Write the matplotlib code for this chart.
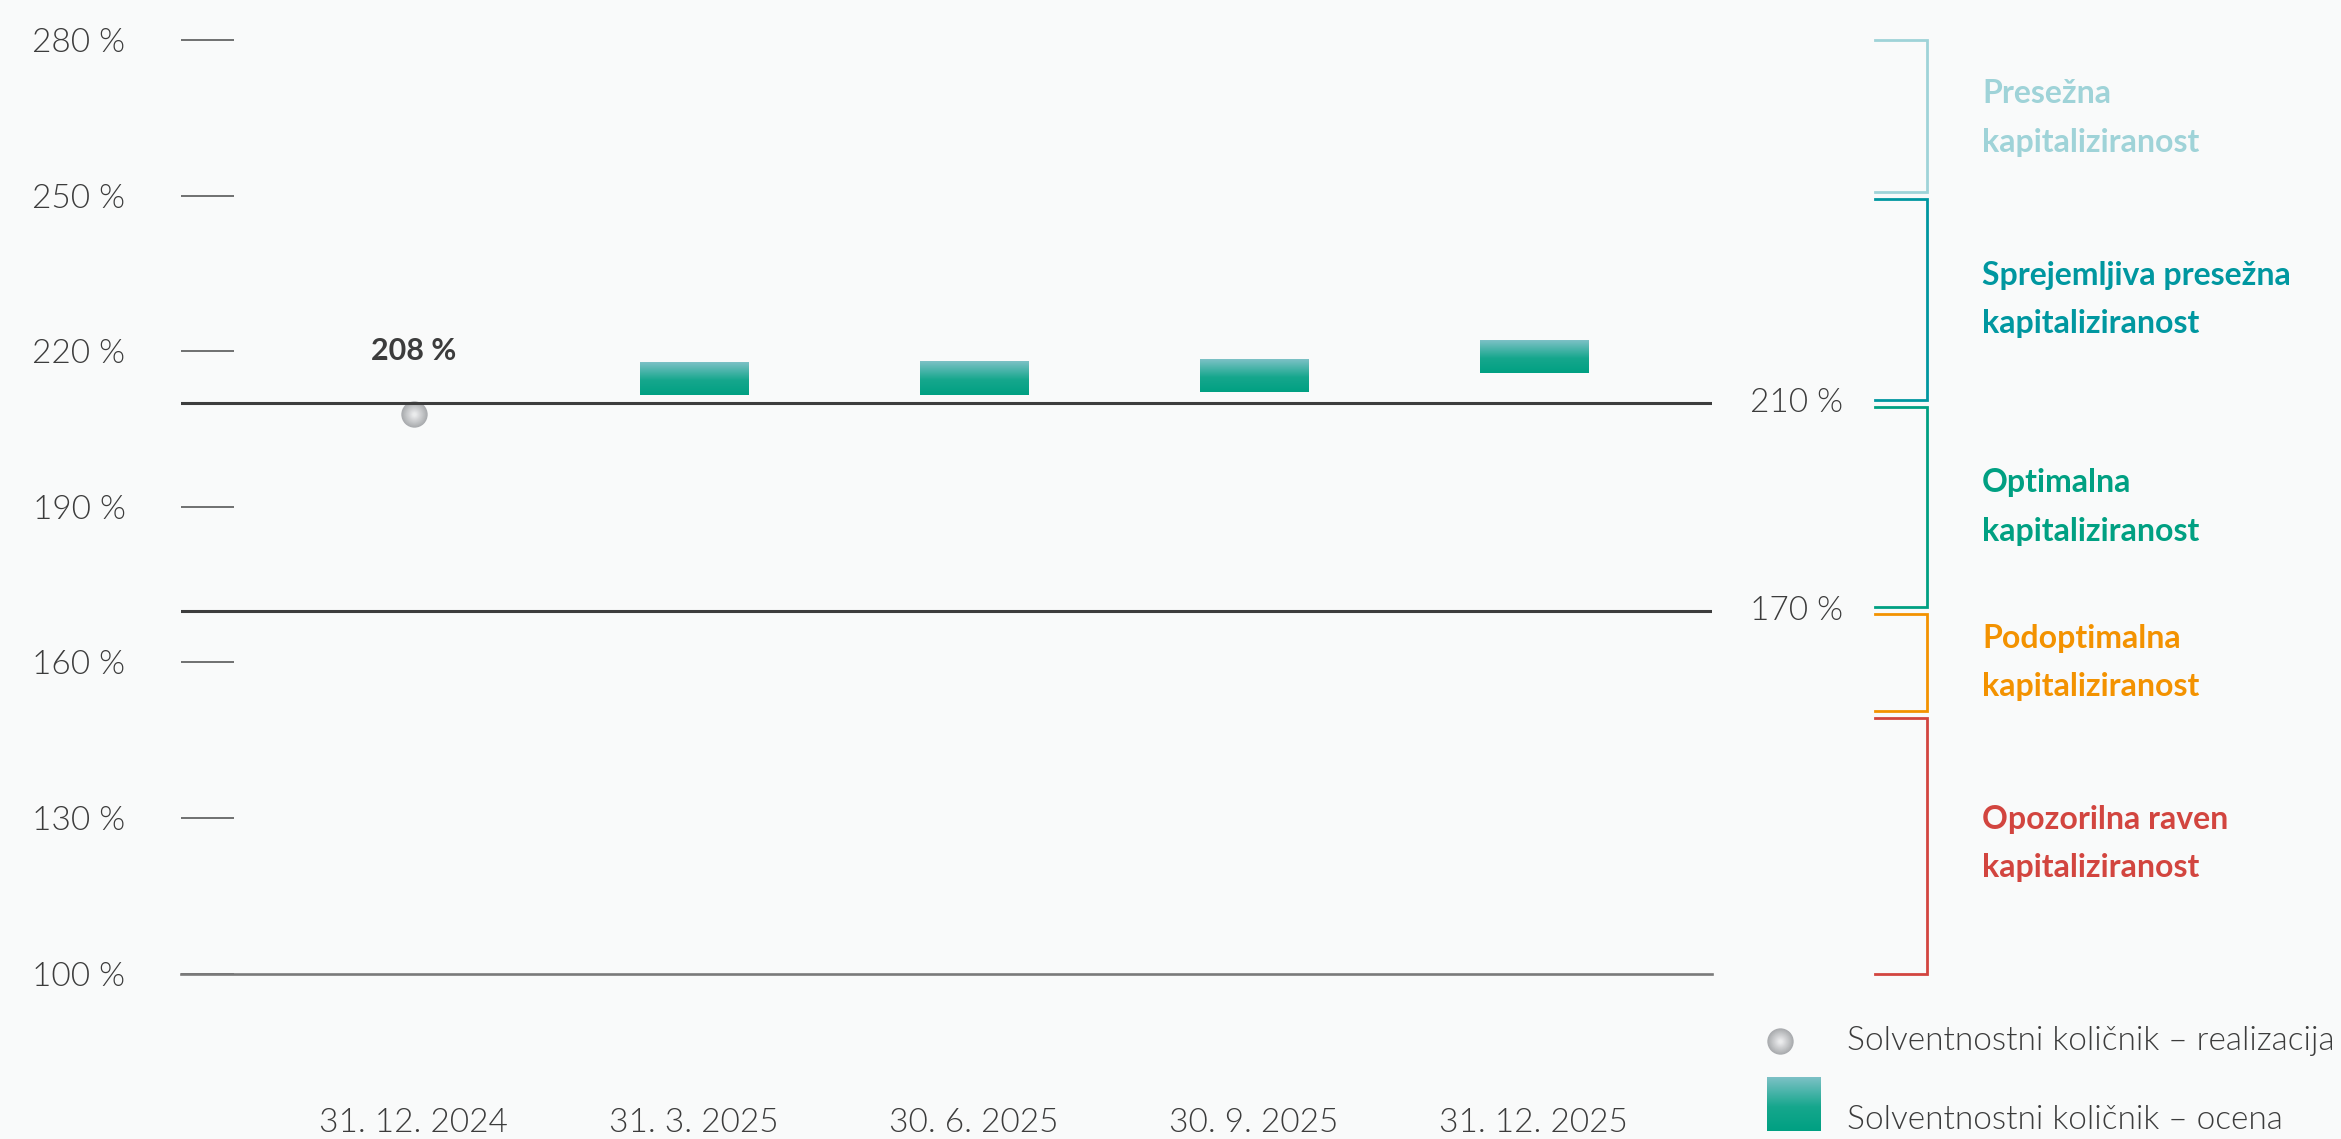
import matplotlib
matplotlib.use('Agg')

import numpy as np
import matplotlib.pyplot as plt
import matplotlib.transforms as mtransforms
from matplotlib.colors import LinearSegmentedColormap

plt.rcParams['font.family'] = ['Lato', 'DejaVu Sans']

# data
dates = ['31. 12. 2024', '31. 3. 2025', '30. 6. 2025', '30. 9. 2025', '31. 12. 2025']
realized_idx = [0]
realized = [208]
est_idx = [1, 2, 3, 4]
est_low = [211.5, 211.6, 212.1, 215.8]
est_high = [217.8, 218.0, 218.4, 222.1]

yticks = [100, 130, 160, 190, 220, 250, 280]
limits = [210, 170]

zone_bounds = [100, 150, 170, 210, 250, 280]
zone_labels = ['Opozorilna raven\nkapitaliziranost',
               'Podoptimalna\nkapitaliziranost',
               'Optimalna\nkapitaliziranost',
               'Sprejemljiva presežna\nkapitaliziranost',
               'Presežna\nkapitaliziranost']
zone_colors = ['#d2453f', '#f39200', '#00a082', '#0097a0', '#9fd3d8']

legend_labels = ['Solventnostni količnik – realizacija', 'Solventnostni količnik – ocena']

bg = '#f9fafa'
txt = '#3c3c3c'
LIGHT = 300
bar_cmap = LinearSegmentedColormap.from_list(
    'bar', [(0, '#00a082'), (0.45, '#16a78d'), (1, '#7dc1c6')])
dot_cols = LinearSegmentedColormap.from_list('dot', ['#a9abae', '#eaebec'])

fig = plt.figure(figsize=(23.41, 11.39), dpi=100, facecolor=bg)
ax = fig.add_axes([0.0773, 0.1453, 0.654, 0.8193])
ax.set_facecolor(bg)

for s in ax.spines.values():
    s.set_visible(False)

# reference lines
ax.axhline(100, color='#7a7a7a', lw=1.9, zorder=3, clip_on=False)
for v in limits:
    ax.axhline(v, color='#3d3d3d', lw=2.2, zorder=3)

# estimated ranges as gradient bars
width = 0.386
grad = np.linspace(0, 1, 256).reshape(-1, 1)
for i, lo, hi in zip(est_idx, est_low, est_high):
    ax.imshow(grad, cmap=bar_cmap, origin='lower', aspect='auto',
              extent=(i - width / 2, i + width / 2, lo, hi), zorder=2)

# realized value as shaded dot
nl = 14
for k in range(nl):
    f = k / (nl - 1)
    ax.scatter(realized_idx, realized, s=360 * (1 - 0.85 * f) ** 2,
               color=dot_cols(f), lw=0, zorder=2)
for i, v in zip(realized_idx, realized):
    ax.annotate('%d %%' % v, (i, v), xytext=(0, 45), textcoords='offset points',
                ha='center', va='center', fontsize=22, fontweight='bold', color=txt)

ax.set_xlim(-0.832, 4.636)
ax.set_ylim(100, 280)

ax.set_yticks(yticks)
ax.set_yticklabels(['%d %%' % t for t in yticks])
ax.tick_params(axis='y', direction='in', length=38, width=1.1, color='#4a4a4a',
               pad=40, labelsize=24, labelcolor=txt)
for lab in ax.get_yticklabels():
    lab.set_fontweight(LIGHT)

ax.set_xticks(range(len(dates)))
ax.set_xticklabels(dates)
ax.tick_params(axis='x', length=0, pad=97, labelsize=24, labelcolor=txt)
for lab in ax.get_xticklabels():
    lab.set_fontweight(LIGHT)

# labels of the limit lines
trans = mtransforms.blended_transform_factory(ax.transAxes, ax.transData)
for v in limits:
    ax.text(1.0248, v, '%d %%' % v, transform=trans, ha='left', va='center',
            fontsize=24, fontweight=LIGHT, color=txt)

# zone brackets
gap = 0.7
for j in range(len(zone_labels)):
    lo = zone_bounds[j] + (gap if j > 0 else 0)
    hi = zone_bounds[j + 1] - (gap if j < len(zone_labels) - 1 else 0)
    ax.plot([1.1065, 1.1404, 1.1404, 1.1065], [lo, lo, hi, hi], transform=trans,
            color=zone_colors[j], lw=2, clip_on=False, solid_joinstyle='miter')
    ax.text(1.1764, (zone_bounds[j] + zone_bounds[j + 1]) / 2, zone_labels[j],
            transform=trans, ha='left', va='center', fontsize=23, fontweight='bold',
            color=zone_colors[j], linespacing=1.8)

# legend
lax = fig.add_axes([0.7454, 0, 0.2546, 0.122])
lax.axis('off')
for k in range(nl):
    f = k / (nl - 1)
    lax.scatter([0.0587], [0.705], s=360 * (1 - 0.85 * f) ** 2,
                color=dot_cols(f), lw=0, clip_on=False)
lax.imshow(grad, cmap=bar_cmap, origin='lower', aspect='auto',
           extent=(0.0369, 0.1275, 0.0576, 0.446))
lax.set_xlim(0, 1)
lax.set_ylim(0, 1)
lax.text(0.171, 0.705, legend_labels[0], ha='left', va='center', fontsize=24,
         fontweight=LIGHT, color=txt)
lax.text(0.171, 0.137, legend_labels[1], ha='left', va='center', fontsize=24,
         fontweight=LIGHT, color=txt)

fig.savefig('out.png', dpi=100, facecolor=bg)
